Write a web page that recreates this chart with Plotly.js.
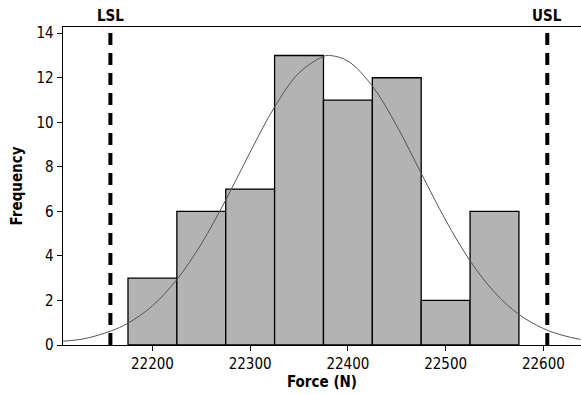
<!DOCTYPE html>
<html><head><meta charset="utf-8">
<script src="https://cdn.plot.ly/plotly-3.0.1.min.js"></script>
<style>html,body{margin:0;padding:0;background:#fff}</style>
</head><body>
<div id="chart" style="width:581px;height:394px"></div>
<script>
// Histogram bins (centers, width 50) and frequencies
const binCenters = [22200, 22250, 22300, 22350, 22400, 22450, 22500, 22550];
const frequencies = [3, 6, 7, 13, 11, 12, 2, 6];
// Fitted normal curve
const curveX = [22108, 22130, 22157, 22175, 22200, 22225, 22250, 22275, 22300, 22325, 22350, 22375, 22382, 22400, 22425, 22450, 22475, 22500, 22525, 22550, 22575, 22600, 22620, 22638];
const curveY = [0.17, 0.28, 0.62, 0.98, 1.76, 2.94, 4.54, 6.51, 8.66, 10.69, 12.22, 12.96, 13.0, 12.75, 11.63, 9.84, 7.71, 5.61, 3.78, 2.37, 1.37, 0.74, 0.43, 0.25];
// Spec limits
const specNames = ["LSL", "USL"];
const specValues = [22157, 22604];
const xTicks = [22200, 22300, 22400, 22500, 22600];
const yTicks = [0, 2, 4, 6, 8, 10, 12, 14];

const font = "DejaVu Sans Condensed, DejaVu Sans, sans-serif";
const traces = [
  {type: "bar", x: binCenters, y: frequencies, width: 50,
   marker: {color: "#b3b3b3", line: {color: "#000", width: 1.3}}, hoverinfo: "none"},
  {type: "scatter", mode: "lines", x: curveX, y: curveY,
   line: {color: "#555", width: 1, shape: "spline"}, hoverinfo: "none"}
];
const shapes = specValues.map(v => ({type: "line", xref: "x", yref: "paper", x0: v, x1: v, y0: 0, y1: 0.995,
  line: {color: "#000", width: 4, dash: "12px,8px"}, layer: "above"}));
const annotations = specValues.map((v, i) => ({xref: "x", yref: "paper", x: v, y: 1, yanchor: "bottom",
  text: "<b>" + specNames[i] + "</b>", showarrow: false, font: {family: font, size: 15, color: "#000"}, yshift: 0}));

const layout = {
  width: 581, height: 394,
  margin: {l: 63, r: 0, t: 27, b: 49},
  paper_bgcolor: "#fff", plot_bgcolor: "#fff",
  showlegend: false, bargap: 0,
  font: {family: font, size: 15, color: "#000"},
  xaxis: {range: [22108.5, 22638.5], tickvals: xTicks, ticktext: xTicks.map(String),
    ticks: "outside", ticklen: 5, tickwidth: 1, tickcolor: "#000",
    showline: true, linecolor: "#000", linewidth: 1.3, mirror: true, showgrid: false, zeroline: false,
    title: {text: "<b>Force (N)</b>", font: {family: font, size: 15}, standoff: 4}},
  yaxis: {range: [0, 14.28], tickvals: yTicks, ticktext: yTicks.map(String),
    ticks: "outside", ticklen: 5, tickwidth: 1, tickcolor: "#000",
    showline: true, linecolor: "#000", linewidth: 1.3, showgrid: false, zeroline: false,
    title: {text: "<b>Frequency</b>", font: {family: font, size: 15}, standoff: 10}},
  shapes: shapes, annotations: annotations
};
Plotly.newPlot("chart", traces, layout, {displayModeBar: false, staticPlot: true});
</script>
</body></html>
